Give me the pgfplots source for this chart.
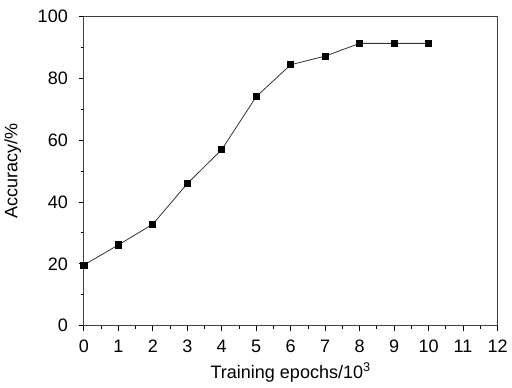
\documentclass[border=0pt]{standalone}
\usepackage{pgfplots}
\pgfplotsset{compat=1.18}
\usepackage{fontspec}
\setmainfont{Liberation Sans}
\begin{document}
\begin{tikzpicture}
\begin{axis}[
  scale only axis,
  width=310pt, height=232pt,
  xmin=0, xmax=12, ymin=0, ymax=100,
  xtick={0,1,...,12}, ytick={0,20,...,100},
  minor x tick num=1, minor y tick num=1,
  tick align=outside,
  xtick pos=bottom, ytick pos=left,
  major tick length=4pt, minor tick length=2.5pt,
  axis line style={black!75, line width=0.7pt},
  every tick/.style={black, line width=0.6pt},
  tick label style={font=\fontsize{13.5}{16}\selectfont},
  yticklabel style={xshift=-4.5pt},
  xticklabel style={yshift=-3pt},
  label style={font=\fontsize{13.5}{16}\selectfont},
  /pgf/number format/assume math mode=true,
  xlabel={Training epochs/10\textsuperscript{3}},
  ylabel={Accuracy/\%},
  xlabel style={yshift=-1pt},
  ylabel style={yshift=5.5pt},
  clip=false,
]
\addplot[black!80, line width=0.6pt, mark=square*, mark size=2.3pt, mark options={solid, fill=black, draw=black}] coordinates {
(0,19.6) (1,26.1) (2,32.8) (3,45.9) (4,56.9) (5,74.0) (6,84.3) (7,87.1) (8,91.2) (9,91.2) (10,91.2)
};
\end{axis}
\path (current bounding box.north) ++(0,4pt) coordinate (topx);
\path (topx) -- (current bounding box.south);
\end{tikzpicture}
\end{document}
